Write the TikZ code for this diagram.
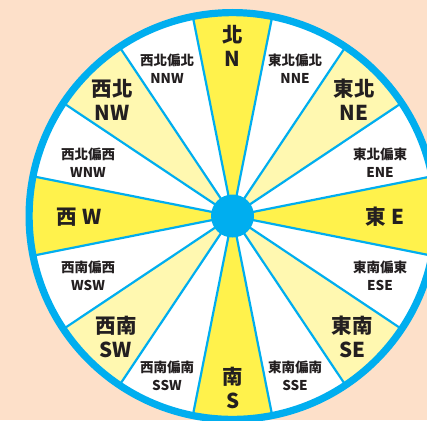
\documentclass[tikz,border=0pt]{standalone}
\usepackage{fontspec}
\newfontfamily\cjk{Noto Sans CJK TC}
\definecolor{bg}{HTML}{FDE0C9}
\definecolor{ybright}{HTML}{FFF24C}
\definecolor{ylight}{HTML}{FFF8B0}
\definecolor{ringblue}{HTML}{00AEEF}
\definecolor{txt}{HTML}{231F20}
\begin{document}
\begin{tikzpicture}[x=1pt,y=-1pt,
  bigl/.style={font=\cjk\bfseries\fontsize{20.5}{24}\selectfont, text=txt, align=center, inner sep=0pt},
  smalll/.style={font=\cjk\bfseries\fontsize{13.5}{18}\selectfont, text=txt, align=center, inner sep=0pt},
  divider/.style={draw=ringblue, line width=2.2pt}]
\useasboundingbox (0,0) rectangle (427,420);
\fill[bg] (0,0) rectangle (427,420);
\begin{scope}
\clip (0,0) rectangle (427,420);
\coordinate (c) at (232.5,216);
\foreach \k in {0,...,15} {
  \pgfmathtruncatemacro\m{mod(\k,4)}
  \ifnum\m=0 \def\col{ybright}\else\ifnum\m=2 \def\col{ylight}\else\def\col{white}\fi\fi
  \fill[\col] (c) -- ++({22.5*\k-11.25}:203) arc[start angle={22.5*\k-11.25}, end angle={22.5*\k+11.25}, radius=203] -- cycle;
}
\foreach \k in {0,...,15} {
  \draw[divider] (c) -- ++({22.5*\k+11.25}:203);
}
\draw[ringblue, line width=7.2pt] (c) circle[radius=203.4];
\fill[ringblue] (c) circle[radius=21.5];
\end{scope}
% labels
\node[bigl] (n) at (232.7,46) {北\\N};
\node[bigl] (s) at (232.7,388) {南\\S};
\node[bigl] (w) at (79,217) {西 W};
\node[bigl] (e) at (385,217) {東 E};
\node[bigl] (nw) at (112,100) {西北\\NW};
\node[bigl] (ne) at (354,100) {東北\\NE};
\node[bigl] (sw) at (116,337) {西南\\SW};
\node[bigl] (se) at (352,337) {東南\\SE};
\node[smalll] (nnw) at (167,69) {西北偏北\\NNW};
\node[smalll] (nne) at (295,69) {東北偏北\\NNE};
\node[smalll] (wnw) at (88,163) {西北偏西\\WNW};
\node[smalll] (ene) at (380,163) {東北偏東\\ENE};
\node[smalll] (wsw) at (88,276) {西南偏西\\WSW};
\node[smalll] (ese) at (380,276) {東南偏東\\ESE};
\node[smalll] (ssw) at (167,376) {西南偏南\\SSW};
\node[smalll] (sse) at (295,376) {東南偏南\\SSE};
\end{tikzpicture}
\end{document}
